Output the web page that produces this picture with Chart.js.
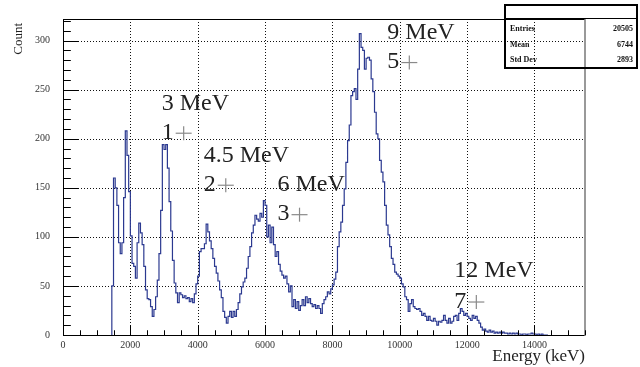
<!DOCTYPE html>
<html>
<head>
<meta charset="utf-8">
<script src="https://cdn.jsdelivr.net/npm/chart.js@4.4.1/dist/chart.umd.min.js"></script>
<style>
    html, body { margin: 0; padding: 0; background: #fff; }
    #contenedor { width: 640px; height: 367px; }
</style>
</head>
<body>
<div id="contenedor"><canvas id="grafico" width="640" height="367"></canvas></div>
<script>
// histograma: bins de 50 keV desde 1450 keV
const binInicio = 1450;
const binAncho = 50;
const cuentas = [
    0,
    50, 160, 150, 132, 94, 83, 94, 140, 208, 183,
    146, 101, 73, 70, 58, 94, 114, 104, 92, 70,
    46, 37, 36, 29, 19, 26, 39, 56, 83, 127,
    194, 189, 194, 170, 136, 106, 76, 53, 43, 33,
    43, 41, 38, 40, 37, 38, 34, 37, 33, 42,
    52, 60, 85, 88, 88, 93, 113, 105, 96, 88,
    78, 70, 63, 55, 46, 38, 24, 18, 12, 19,
    24, 18, 24, 19, 26, 33, 42, 49, 54, 58,
    68, 80, 90, 104, 112, 122, 118, 116, 124, 120,
    137, 132, 100, 112, 94, 110, 92, 80, 85, 72,
    65, 61, 58, 60, 52, 44, 50, 29, 36, 27,
    34, 25, 30, 36, 30, 39, 33, 37, 32, 29,
    31, 27, 30, 27, 22, 32, 36, 39, 44, 42,
    47, 51, 57, 64, 90, 105, 115, 132, 149, 176,
    198, 214, 244, 248, 251, 240, 271, 307, 293, 290,
    271, 282, 283, 280, 261, 248, 227, 205, 200, 178,
    166, 156, 132, 112, 102, 90, 78, 72, 64, 62,
    60, 58, 52, 49, 39, 36, 24, 32, 36, 29,
    27, 26, 27, 24, 20, 22, 19, 15, 19, 15,
    14, 17, 14, 10, 14, 13, 15, 20, 15, 12,
    17, 12, 14, 19, 20, 15, 22, 27, 24, 20,
    22, 19, 17, 15, 20, 17, 19, 15, 12, 8,
    5, 6, 4, 3, 5, 3, 4, 2, 3, 2,
    3, 2, 3, 2, 2, 1, 2, 1, 2, 1,
    2, 1, 1, 0, 1, 1, 0, 1, 1, 2,
    1, 1, 0, 1, 0, 1, 0, 0
];

// ejes y marcas
const xMax = 15500;
const yMax = 322;
const xMarcas = [0, 2000, 4000, 6000, 8000, 10000, 12000, 14000];
const yMarcas = [0, 50, 100, 150, 200, 250, 300];
const xMenor = 500;
const yMenor = 10;

// etiquetas de los picos (coordenadas en unidades de datos)
const picoTexto = ['3 MeV', '4.5 MeV', '6 MeV', '9 MeV', '12 MeV'];
const picoEstado = ['1', '2', '3', '5', '7'];
const picoX = [2930, 4180, 6370, 9630, 11620];
const picoY = [229, 176, 147, 302, 59];
const estadoY = [200, 147, 117, 272, 28];

// caja de estadisticas
const statsNombres = ['Entries', 'Mean', 'Std Dev'];
const statsValores = ['20505', '6744', '2893'];

const puntos = cuentas.map((c, i) => ({ x: binInicio + i * binAncho, y: c }));
puntos.push({ x: binInicio + cuentas.length * binAncho, y: 0 });

const fuente = '"Liberation Serif", "Times New Roman", serif';

function linea(ctx, x1, y1, x2, y2) {
    ctx.beginPath();
    ctx.moveTo(x1, y1);
    ctx.lineTo(x2, y2);
    ctx.stroke();
}

const marco = {
    id: 'marco',
    beforeDatasetsDraw(chart) {
        const { ctx, chartArea: a, scales: { x, y } } = chart;
        ctx.save();
        ctx.strokeStyle = '#111';
        ctx.lineWidth = 1;
        ctx.setLineDash([1, 2]);
        xMarcas.forEach(v => {
            if (v === 0) return;
            const px = Math.round(x.getPixelForValue(v)) + 0.5;
            linea(ctx, px, a.top, px, a.bottom);
        });
        yMarcas.forEach(v => {
            if (v === 0) return;
            const py = Math.round(y.getPixelForValue(v)) + 0.5;
            linea(ctx, a.left, py, a.right, py);
        });
        ctx.restore();
    },
    afterDatasetsDraw(chart) {
        const { ctx, chartArea: a, scales: { x, y } } = chart;
        ctx.save();
        // marco
        ctx.strokeStyle = '#000';
        ctx.lineWidth = 1;
        linea(ctx, a.left + 0.5, a.top, a.left + 0.5, a.bottom);
        linea(ctx, a.left, a.bottom + 0.5, a.right, a.bottom + 0.5);
        linea(ctx, a.left, a.top + 0.5, a.right, a.top + 0.5);
        ctx.strokeStyle = '#777';
        ctx.lineWidth = 1.5;
        linea(ctx, a.right, a.top, a.right, a.bottom + 1);
        // marcas hacia dentro
        ctx.strokeStyle = '#000';
        ctx.lineWidth = 1;
        const alto = a.bottom - a.top;
        const ancho = a.right - a.left;
        for (let v = 0; v <= xMax; v += xMenor) {
            const px = Math.round(x.getPixelForValue(v)) + 0.5;
            const largo = xMarcas.includes(v) ? alto * 0.03 : alto * 0.015;
            linea(ctx, px, a.bottom, px, a.bottom - largo);
        }
        for (let v = 0; v <= yMax; v += yMenor) {
            const py = Math.round(y.getPixelForValue(v)) + 0.5;
            const largo = yMarcas.includes(v) ? ancho * 0.03 : ancho * 0.015;
            linea(ctx, a.left, py, a.left + largo, py);
        }
        ctx.restore();
    },
    afterDraw(chart) {
        const { ctx, chartArea: a, scales: { x, y } } = chart;
        ctx.save();

        // titulos de los ejes
        ctx.fillStyle = '#222';
        ctx.font = '17px ' + fuente;
        ctx.textAlign = 'right';
        ctx.textBaseline = 'alphabetic';
        ctx.fillText('Energy (keV)', a.right, 361);
        ctx.save();
        ctx.translate(22, a.top + 4);
        ctx.rotate(-Math.PI / 2);
        ctx.font = '13px ' + fuente;
        ctx.textAlign = 'right';
        ctx.fillText('Count', 0, 0);
        ctx.restore();

        // etiquetas de picos
        ctx.textAlign = 'left';
        ctx.font = '24px ' + fuente;
        for (let i = 0; i < picoTexto.length; i++) {
            const px = x.getPixelForValue(picoX[i]);
            ctx.fillStyle = '#222';
            ctx.fillText(picoTexto[i], px, y.getPixelForValue(picoY[i]));
            const base = y.getPixelForValue(estadoY[i]);
            ctx.fillText(picoEstado[i], px, base);
            const w = ctx.measureText(picoEstado[i]).width;
            const cx = px + w + 10;
            const cy = base - 5.5;
            ctx.strokeStyle = '#8a8a8a';
            ctx.lineWidth = 1.2;
            linea(ctx, cx - 8, cy, cx + 8, cy);
            linea(ctx, cx, cy - 7, cx, cy + 7);
        }

        // caja de estadisticas
        ctx.strokeStyle = '#000';
        ctx.lineWidth = 2;
        ctx.strokeRect(505, 5, 132, 63);
        ctx.lineWidth = 1;
        linea(ctx, 505, 18.5, 637, 18.5);
        ctx.fillStyle = '#111';
        ctx.font = 'bold 8px ' + fuente;
        ctx.textBaseline = 'middle';
        for (let i = 0; i < statsNombres.length; i++) {
            const fy = 29 + i * 15.5;
            ctx.textAlign = 'left';
            ctx.fillText(statsNombres[i], 510, fy);
            ctx.textAlign = 'right';
            ctx.fillText(statsValores[i], 633, fy);
        }
        ctx.restore();
    }
};

new Chart(document.getElementById('grafico'), {
    type: 'line',
    data: {
        datasets: [{
            data: puntos,
            stepped: 'after',
            borderColor: '#2b3990',
            borderWidth: 1.2,
            pointRadius: 0,
            fill: false
        }]
    },
    options: {
        responsive: false,
        animation: false,
        devicePixelRatio: 1,
        layout: { padding: { left: 0, right: 55, top: 18, bottom: 0 } },
        plugins: { legend: { display: false }, tooltip: { enabled: false } },
        scales: {
            x: {
                type: 'linear',
                min: 0,
                max: xMax,
                grid: { display: false, drawTicks: false },
                border: { display: false },
                afterFit: (s) => { s.height = 32; },
                afterBuildTicks: (s) => { s.ticks = xMarcas.map(v => ({ value: v })); },
                ticks: {
                    autoSkip: false,
                    maxRotation: 0,
                    padding: 4,
                    color: '#333',
                    font: { family: fuente, size: 10 },
                    callback: (v) => String(v)
                }
            },
            y: {
                type: 'linear',
                min: 0,
                max: yMax,
                grid: { display: false, drawTicks: false },
                border: { display: false },
                afterFit: (s) => { s.width = 63; },
                afterBuildTicks: (s) => { s.ticks = yMarcas.map(v => ({ value: v })); },
                ticks: {
                    autoSkip: false,
                    padding: 13,
                    color: '#333',
                    font: { family: fuente, size: 10 },
                    callback: (v) => String(v)
                }
            }
        }
    },
    plugins: [marco]
});
</script>
</body>
</html>
